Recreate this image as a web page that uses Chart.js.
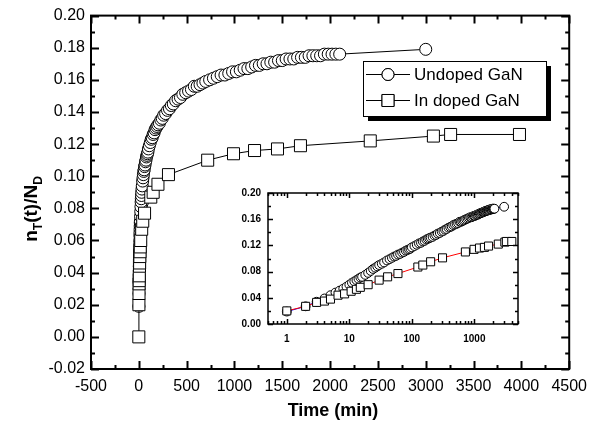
<!DOCTYPE html>
<html>
<head>
<meta charset="utf-8">
<script src="https://cdn.jsdelivr.net/npm/chart.js@4.4.0/dist/chart.umd.min.js"></script>
<style>
  body { margin: 0; background: #fff; }
  #marco { position: relative; width: 595px; height: 428px; }
  #principal { position: absolute; left: 0; top: 0; }
  #recuadro { position: absolute; left: 230px; top: 180px; }
</style>
</head>
<body>
<div id="marco">
  <canvas id="principal" width="595" height="428"></canvas>
  <canvas id="recuadro" width="300" height="165"></canvas>
</div>
<script>
// Undoped GaN (circulos)
const tiempoSinDopar = [1, 2, 3, 4, 5, 6, 7, 8, 9, 10, 11, 12, 13, 14, 15, 16, 18, 20, 22, 24, 26, 28,
  30, 33, 36, 40, 44, 48, 52, 56, 60, 65, 70, 75, 80, 85, 90, 95, 100, 110, 120, 130, 140, 150,
  160, 170, 180, 190, 200, 215, 230, 245, 260, 280, 300, 320, 340, 360, 385, 410, 435, 460, 490,
  520, 550, 580, 610, 640, 670, 700, 740, 780, 820, 860, 900, 940, 980, 1020, 1060, 1100, 1140,
  1180, 1220, 1260, 1300, 1340, 1380, 1420, 1460, 1500, 1540, 1580, 1620, 1660, 1700, 1740,
  1780, 1820, 1860, 1900, 1940, 1980, 2020, 2060, 2100, 3000];
const valorSinDopar = [0.019, 0.027, 0.034, 0.039, 0.044, 0.048, 0.051, 0.054, 0.057, 0.060, 0.063,
  0.065, 0.067, 0.069, 0.071, 0.072, 0.075, 0.078, 0.081, 0.084, 0.086, 0.088, 0.090, 0.092,
  0.094, 0.097, 0.099, 0.101, 0.103, 0.104, 0.106, 0.107, 0.109, 0.110, 0.112, 0.113, 0.114,
  0.115, 0.117, 0.119, 0.121, 0.123, 0.124, 0.126, 0.127, 0.129, 0.130, 0.131, 0.132, 0.133,
  0.135, 0.136, 0.138, 0.139, 0.141, 0.142, 0.144, 0.145, 0.147, 0.148, 0.149, 0.151, 0.152,
  0.153, 0.154, 0.156, 0.156, 0.157, 0.158, 0.159, 0.160, 0.161, 0.162, 0.163, 0.163, 0.164,
  0.165, 0.165, 0.166, 0.167, 0.167, 0.168, 0.169, 0.169, 0.170, 0.170, 0.171, 0.171, 0.172,
  0.172, 0.173, 0.173, 0.173, 0.174, 0.174, 0.174, 0.175, 0.175, 0.175, 0.175, 0.176, 0.176,
  0.176, 0.176, 0.176, 0.179];

// In doped GaN (cuadrados)
const tiempoDopado = [0, 1, 2, 3, 4, 5, 6.6, 8.4, 10.7, 13, 15, 20, 30, 41, 60, 125, 150, 200, 310,
  720, 990, 1210, 1450, 1690, 2420, 3080, 3260, 3980];
const valorDopado = [0.000, 0.020, 0.027, 0.033, 0.035, 0.038, 0.044, 0.046, 0.050, 0.053, 0.056,
  0.060, 0.067, 0.072, 0.077, 0.087, 0.090, 0.095, 0.101, 0.110, 0.114, 0.116, 0.117, 0.119,
  0.122, 0.125, 0.126, 0.126];

const ticksXPrincipal = [-500, 0, 500, 1000, 1500, 2000, 2500, 3000, 3500, 4000, 4500];
const ticksYPrincipal = [-0.02, 0.00, 0.02, 0.04, 0.06, 0.08, 0.10, 0.12, 0.14, 0.16, 0.18, 0.20];
const ticksXRecuadro = [1, 10, 100, 1000];
const ticksYRecuadro = [0.00, 0.04, 0.08, 0.12, 0.16, 0.20];

const fuente = "'Liberation Sans', Arial, sans-serif";

function puntos(tiempos, valores, soloPositivos) {
  return tiempos.map((t, i) => ({ x: t, y: valores[i] }))
    .filter(p => !soloPositivos || p.x > 0);
}

function medios(lista) {
  const res = [];
  for (let i = 0; i < lista.length - 1; i++) res.push((lista[i] + lista[i + 1]) / 2);
  return res;
}

function menoresLog(min, max) {
  const res = [];
  for (let d = 0.1; d <= 1000; d *= 10) {
    for (let k = 2; k <= 9; k++) {
      const v = Math.round(d * k * 1000) / 1000;
      if (v >= min && v <= max) res.push(v);
    }
  }
  return res;
}

// marcas hacia adentro en los cuatro lados, mas el marco
function pluginMarcas(cfg) {
  return {
    id: 'marcas',
    afterDraw(chart) {
      const { ctx, chartArea: a, scales: { x, y } } = chart;
      ctx.save();
      ctx.strokeStyle = '#000';
      ctx.lineWidth = cfg.grosor;
      const marca = (lista, largo, esX) => {
        lista.forEach(v => {
          ctx.beginPath();
          if (esX) {
            const px = Math.round(x.getPixelForValue(v)) + 0.5;
            ctx.moveTo(px, a.bottom); ctx.lineTo(px, a.bottom - largo);
            ctx.moveTo(px, a.top); ctx.lineTo(px, a.top + largo);
          } else {
            const py = Math.round(y.getPixelForValue(v)) + 0.5;
            ctx.moveTo(a.left, py); ctx.lineTo(a.left + largo, py);
            ctx.moveTo(a.right, py); ctx.lineTo(a.right - largo, py);
          }
          ctx.stroke();
        });
      };
      marca(cfg.xMayor, cfg.largoMayor, true);
      marca(cfg.xMenor, cfg.largoMenor, true);
      marca(cfg.yMayor, cfg.largoMayor, false);
      marca(cfg.yMenor, cfg.largoMenor, false);
      ctx.strokeRect(a.left, a.top, a.right - a.left, a.bottom - a.top);
      ctx.restore();
    }
  };
}

const textosPrincipal = {
  id: 'textos',
  afterDraw(chart) {
    const { ctx } = chart;
    ctx.save();
    ctx.fillStyle = '#000';
    // titulo eje x
    ctx.font = 'bold 18px ' + fuente;
    ctx.textAlign = 'center';
    ctx.textBaseline = 'alphabetic';
    ctx.fillText('Time (min)', 333, 416);

    // titulo eje y con subindices
    const grande = 'bold 19px ' + fuente, chica = 'bold 12px ' + fuente;
    const partes = [['n', grande, 0], ['T', chica, 5], ['(t)/N', grande, 0], ['D', chica, 5]];
    let total = 0;
    partes.forEach(p => { ctx.font = p[1]; total += ctx.measureText(p[0]).width; });
    ctx.translate(30, 209);
    ctx.rotate(-Math.PI / 2);
    ctx.textAlign = 'left';
    let xx = -total / 2;
    partes.forEach(p => {
      ctx.font = p[1];
      ctx.fillText(p[0], xx, 7 + p[2]);
      xx += ctx.measureText(p[0]).width;
    });
    ctx.restore();

    // leyenda con sombra
    const ds = chart.data.datasets;
    ctx.save();
    ctx.fillStyle = '#000';
    ctx.fillRect(368, 66, 183, 55);
    ctx.fillStyle = '#fff';
    ctx.fillRect(363, 61, 183, 55);
    ctx.strokeStyle = '#000';
    ctx.lineWidth = 1;
    ctx.strokeRect(363.5, 61.5, 183, 55);
    ds.forEach((d, i) => {
      const yy = 74 + i * 26;
      ctx.beginPath();
      ctx.moveTo(366, yy + 0.5); ctx.lineTo(410, yy + 0.5);
      ctx.stroke();
      ctx.fillStyle = '#fff';
      Chart.helpers.drawPoint(ctx, {
        pointStyle: d.pointStyle, radius: d.pointRadius, borderWidth: 1, rotation: 0
      }, 388, yy + 0.5);
      ctx.fill();
      ctx.stroke();
      ctx.fillStyle = '#000';
      ctx.font = '17px ' + fuente;
      ctx.textAlign = 'left';
      ctx.textBaseline = 'middle';
      ctx.fillText(d.label, 414, yy + 1);
    });
    ctx.restore();
  }
};

new Chart(document.getElementById('principal'), {
  type: 'scatter',
  data: {
    datasets: [
      {
        label: 'Undoped GaN',
        data: puntos(tiempoSinDopar, valorSinDopar, false),
        showLine: true, borderColor: '#000', borderWidth: 1,
        pointStyle: 'circle', pointRadius: 6,
        pointBackgroundColor: '#fff', pointBorderColor: '#000', pointBorderWidth: 1,
        order: 2
      },
      {
        label: 'In doped GaN',
        data: puntos(tiempoDopado, valorDopado, false),
        showLine: true, borderColor: '#000', borderWidth: 1,
        pointStyle: 'rect', pointRadius: 8.5,
        pointBackgroundColor: '#fff', pointBorderColor: '#000', pointBorderWidth: 1,
        order: 1
      }
    ]
  },
  options: {
    responsive: false,
    animation: false,
    layout: { padding: { top: 15, right: 20, left: 0, bottom: 0 } },
    plugins: { legend: { display: false }, tooltip: { enabled: false } },
    scales: {
      x: {
        type: 'linear', min: -500, max: 4500,
        afterBuildTicks: s => { s.ticks = ticksXPrincipal.map(v => ({ value: v })); },
        afterFit: s => { s.height = 59; },
        grid: { display: false, drawTicks: false },
        border: { display: false },
        ticks: { color: '#000', font: { family: fuente, size: 16 }, padding: 8, maxRotation: 0, autoSkip: false,
          callback: v => String(v) }
      },
      y: {
        type: 'linear', min: -0.02, max: 0.20,
        afterBuildTicks: s => { s.ticks = ticksYPrincipal.map(v => ({ value: v })); },
        afterFit: s => { s.width = 91; },
        grid: { display: false, drawTicks: false },
        border: { display: false },
        ticks: { color: '#000', font: { family: fuente, size: 16 }, padding: 6, autoSkip: false,
          callback: v => v.toFixed(2) }
      }
    }
  },
  plugins: [pluginMarcas({
    xMayor: ticksXPrincipal, xMenor: medios(ticksXPrincipal),
    yMayor: ticksYPrincipal, yMenor: medios(ticksYPrincipal),
    largoMayor: 8, largoMenor: 4, grosor: 2
  }), textosPrincipal]
});

new Chart(document.getElementById('recuadro'), {
  type: 'scatter',
  data: {
    datasets: [
      {
        label: 'Undoped GaN',
        data: puntos(tiempoSinDopar, valorSinDopar, true),
        showLine: true, borderColor: '#0000ff', borderWidth: 1,
        pointStyle: 'circle', pointRadius: 4.4,
        pointBackgroundColor: '#fff', pointBorderColor: '#000', pointBorderWidth: 1,
        order: 2
      },
      {
        label: 'In doped GaN',
        data: puntos(tiempoDopado, valorDopado, true),
        showLine: true, borderColor: '#ff0000', borderWidth: 1,
        pointStyle: 'rect', pointRadius: 5.7,
        pointBackgroundColor: '#fff', pointBorderColor: '#000', pointBorderWidth: 1,
        order: 1
      }
    ]
  },
  options: {
    responsive: false,
    animation: false,
    layout: { padding: { top: 7, right: 12, left: 0, bottom: 0 } },
    plugins: { legend: { display: false }, tooltip: { enabled: false } },
    scales: {
      x: {
        type: 'logarithmic', min: 0.5, max: 5000,
        afterBuildTicks: s => { s.ticks = ticksXRecuadro.map(v => ({ value: v })); },
        afterFit: s => { s.height = 21; },
        grid: { display: false, drawTicks: false },
        border: { display: false },
        ticks: { color: '#000', font: { family: fuente, size: 10, weight: 'bold' }, padding: 9, maxRotation: 0,
          autoSkip: false, callback: v => String(v) }
      },
      y: {
        type: 'linear', min: 0, max: 0.20,
        afterBuildTicks: s => { s.ticks = ticksYRecuadro.map(v => ({ value: v })); },
        afterFit: s => { s.width = 38; },
        grid: { display: false, drawTicks: false },
        border: { display: false },
        ticks: { color: '#000', font: { family: fuente, size: 10, weight: 'bold' }, padding: 7, autoSkip: false,
          callback: v => v.toFixed(2) }
      }
    }
  },
  plugins: [pluginMarcas({
    xMayor: ticksXRecuadro, xMenor: menoresLog(0.5, 5000),
    yMayor: ticksYRecuadro, yMenor: medios(ticksYRecuadro),
    largoMayor: 5, largoMenor: 3, grosor: 1.5
  })]
});
</script>
</body>
</html>
